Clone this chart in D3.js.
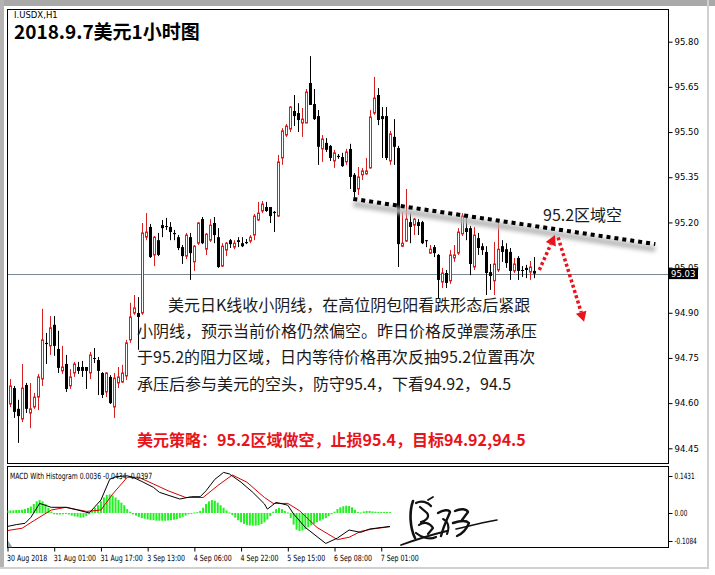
<!DOCTYPE html>
<html>
<head>
<meta charset="utf-8">
<script src="https://cdn.jsdelivr.net/npm/d3@7"></script>
<style>
  body { margin: 0; background: #fff; }
  svg { display: block; }
</style>
</head>
<body>
<svg id="chart" width="715" height="575"></svg>
<script>
// ---- I.USDX H1 candles (open / high / low / close) ----
const open  = [94.597,94.650,94.581,94.547,94.660,94.567,94.587,94.620,94.680,94.800,94.790,94.860,94.780,94.707,94.730,94.657,94.700,94.720,94.720,94.720,94.700,94.750,94.743,94.700,94.637,94.687,94.587,94.667,94.670,94.690,94.810,94.899,94.899,94.899,95.151,95.185,95.092,95.141,95.191,95.188,95.185,95.165,95.151,95.118,95.088,95.151,95.069,95.131,95.211,95.111,95.141,95.198,95.151,95.055,95.108,95.141,95.118,95.141,95.131,95.135,95.138,95.158,95.208,95.238,95.251,95.251,95.235,95.221,95.414,95.490,95.510,95.570,95.563,95.530,95.530,95.663,95.593,95.553,95.444,95.464,95.454,95.404,95.421,95.417,95.401,95.444,95.358,95.311,95.358,95.361,95.381,95.563,95.623,95.553,95.553,95.404,95.484,95.447,95.121,95.138,95.201,95.191,95.201,95.201,95.141,95.098,95.118,95.092,95.002,95.032,95.006,95.082,95.098,95.162,95.181,95.181,95.052,95.148,95.121,95.102,95.035,95.006,95.042,95.121,95.111,95.102,95.039,95.082,95.042,95.049,95.035,95.039];
const high  = [94.680,94.657,94.611,94.730,94.667,94.667,94.634,94.697,94.913,94.833,94.889,94.889,94.840,94.790,94.760,94.713,94.737,94.737,94.740,94.720,94.770,94.783,94.753,94.703,94.703,94.693,94.700,94.720,94.727,94.810,94.933,94.959,94.952,95.198,95.231,95.195,95.155,95.165,95.208,95.215,95.201,95.175,95.158,95.125,95.165,95.165,95.125,95.201,95.218,95.165,95.211,95.218,95.181,95.131,95.135,95.145,95.141,95.151,95.151,95.145,95.158,95.228,95.268,95.271,95.268,95.251,95.238,95.424,95.513,95.527,95.586,95.623,95.596,95.580,95.643,95.752,95.643,95.573,95.490,95.480,95.457,95.441,95.427,95.431,95.444,95.461,95.364,95.384,95.381,95.414,95.573,95.683,95.646,95.583,95.583,95.504,95.543,95.454,95.235,95.311,95.231,95.215,95.211,95.205,95.141,95.125,95.125,95.095,95.049,95.042,95.108,95.125,95.181,95.231,95.215,95.188,95.185,95.165,95.131,95.121,95.062,95.135,95.208,95.141,95.131,95.115,95.082,95.088,95.055,95.059,95.072,95.085];
const low   = [94.587,94.551,94.468,94.537,94.567,94.517,94.581,94.577,94.657,94.730,94.760,94.757,94.700,94.697,94.637,94.647,94.687,94.697,94.687,94.647,94.680,94.733,94.627,94.617,94.620,94.597,94.551,94.650,94.667,94.677,94.800,94.893,94.777,94.893,95.141,95.082,95.055,95.088,95.151,95.175,95.141,95.141,95.108,95.062,95.078,95.009,95.039,95.125,95.128,95.092,95.135,95.131,95.049,95.052,95.088,95.115,95.111,95.118,95.118,95.128,95.131,95.141,95.205,95.231,95.235,95.198,95.168,95.218,95.391,95.484,95.500,95.520,95.500,95.484,95.530,95.597,95.540,95.391,95.401,95.434,95.404,95.381,95.411,95.384,95.391,95.311,95.284,95.291,95.341,95.358,95.378,95.557,95.523,95.414,95.407,95.391,95.391,95.052,95.118,95.135,95.131,95.158,95.158,95.128,95.118,95.095,95.085,94.949,94.982,94.982,94.996,95.069,95.092,95.155,95.141,95.025,95.042,95.092,95.092,94.959,94.976,94.959,95.035,95.069,95.049,95.009,95.032,95.009,95.019,95.015,95.009,95.015];
const close = [94.657,94.571,94.557,94.650,94.581,94.581,94.620,94.687,94.810,94.796,94.850,94.790,94.717,94.720,94.647,94.687,94.730,94.707,94.707,94.707,94.760,94.747,94.707,94.627,94.700,94.600,94.683,94.687,94.700,94.800,94.886,94.916,94.886,95.165,95.168,95.085,95.151,95.092,95.181,95.185,95.168,95.161,95.115,95.088,95.158,95.098,95.121,95.198,95.131,95.161,95.191,95.158,95.052,95.121,95.131,95.128,95.131,95.135,95.121,95.131,95.151,95.221,95.231,95.261,95.238,95.221,95.231,95.401,95.504,95.520,95.583,95.553,95.540,95.543,95.633,95.590,95.543,95.451,95.477,95.441,95.414,95.431,95.417,95.387,95.434,95.351,95.301,95.351,95.371,95.371,95.550,95.613,95.540,95.543,95.414,95.494,95.451,95.128,95.131,95.211,95.185,95.211,95.188,95.131,95.138,95.111,95.098,95.009,95.032,94.999,95.092,95.092,95.168,95.221,95.168,95.062,95.158,95.115,95.108,95.032,95.022,95.062,95.111,95.102,95.065,95.039,95.062,95.039,95.039,95.042,95.052,95.030];

const priceTicks = [95.80, 95.65, 95.50, 95.35, 95.20, 95.05, 94.90, 94.75, 94.60, 94.45];
const lastPrice = 95.03;

// time axis: bar index of each label
const timeLabelBars = [0, 16, 32, 48, 64, 80, 96, 112, 128];
const timeLabels = ["30 Aug 2018", "31 Aug 01:00", "31 Aug 17:00", "3 Sep 13:00", "4 Sep 06:00",
                    "4 Sep 22:00", "5 Sep 15:00", "6 Sep 08:00", "7 Sep 01:00"];

// MACD with histogram
const macdHist = [0.010,0.010,0.010,0.012,0.012,0.013,0.015,0.020,0.025,0.035,0.045,0.050,0.045,0.035,0.020,0.005,
  -0.005,-0.006,-0.006,-0.005,-0.004,-0.006,-0.010,-0.013,-0.015,-0.018,-0.017,-0.012,-0.005,
  0.010,0.020,0.030,0.045,0.060,0.070,0.072,0.068,0.060,0.050,0.040,0.030,0.015,0.005,
  -0.005,-0.010,-0.015,-0.020,-0.022,-0.025,-0.027,-0.028,-0.030,-0.030,-0.030,-0.030,-0.029,-0.028,-0.026,-0.024,-0.020,-0.015,-0.010,-0.005,-0.002,
  0.002,0.003,0.008,0.020,0.035,0.045,0.050,0.048,0.040,0.030,0.020,0.010,0.002,
  -0.008,-0.018,-0.028,-0.036,-0.042,-0.046,-0.048,-0.049,-0.049,-0.047,-0.043,-0.036,-0.025,-0.012,
  0.005,0.015,0.020,0.015,0.008,0.002,
  -0.020,-0.045,-0.065,-0.070,-0.068,-0.062,-0.055,-0.048,-0.042,-0.036,-0.030,-0.025,-0.020,-0.012,-0.005,
  0.005,0.015,0.022,0.026,0.028,0.027,0.022,0.012,0.004,
  0.002,0.006,0.008,0.008,0.006,0.005,0.004,0.004,0.004,0.004,0.0036];
const macdMain = [[0,-0.052],[3,-0.045],[6,-0.040],[8,-0.017],[11,0.037],[15,0.022],[20,0.022],[24,0.0115],[28,0.000],
  [32,0.050],[35,0.130],[37,0.140],[41,0.144],[43,0.138],[46,0.122],[50,0.099],[52,0.080],[59,0.054],[63,0.063],
  [66,0.063],[68,0.086],[71,0.130],[74,0.157],[76,0.151],[80,0.119],[84,0.080],[88,0.035],[89,0.015],[92,0.041],
  [96,0.030],[98,-0.004],[102,-0.056],[109,-0.118],[113,-0.097],[117,-0.066],[121,-0.075],[124,-0.062],[131,-0.052]];
const macdSignal = [[0,-0.068],[5,-0.059],[9,-0.030],[15,0.0115],[20,0.022],[27,0.006],[32,0.0115],[36,0.073],
  [41,0.138],[45,0.138],[50,0.112],[55,0.086],[61,0.060],[67,0.060],[72,0.106],[77,0.147],[82,0.119],[88,0.060],
  [91,0.037],[96,0.037],[100,0.009],[106,-0.056],[113,-0.103],[117,-0.094],[121,-0.071],[125,-0.062],[131,-0.053]];
const macdTicks = [0.1431, 0, -0.1084];
const macdTickLabels = ["0.1431", "0.00", "-0.1084"];

// drawn objects: resistance line and projected path (bar index, price)
const resistance = [[85.7, 95.278], [161.2, 95.128]];
const bounceUp = [[132.2, 95.042], [136.1, 95.158]];
const dropDown = [[136.9, 95.150], [143.4, 94.870]];

// ---- layout ----
const svg = d3.select("#chart");
const plotL = 7.5, plotR = 668.5, mainT = 9.5, mainB = 463.5, macdT = 466.5, macdB = 547.5;

const x  = d3.scaleLinear().domain([0, open.length - 1]).range([10.5, 10.5 + 4 * (open.length - 1)]);
const y  = d3.scaleLinear().domain([94.45, 95.80]).range([448.3, 41.7]);
const xm = d3.scaleLinear().domain([0, macdHist.length - 1]).range([7.5, 390]);
const ym = d3.scaleLinear().domain([-0.1084, 0.1431]).range([541, 476]);

// the indicator strip uses a condensed face: scale each label horizontally about its anchor
function squeeze(sel, k) {
  sel.each(function () {
    const t = d3.select(this);
    const x0 = +t.attr("x") || 0;
    const y0 = +t.attr("y") || 0;
    t.attr("x", 0).attr("y", 0)
      .attr("transform", `translate(${x0},${y0}) scale(${k},1)`);
  });
}

const defs = svg.append("defs");
defs.append("filter").attr("id", "soft").attr("x", "-10%").attr("y", "-50%").attr("width", "120%").attr("height", "200%")
  .append("feGaussianBlur").attr("stdDeviation", 2.2);
defs.append("clipPath").attr("id", "mainClip").append("rect")
  .attr("x", plotL).attr("y", mainT).attr("width", plotR - plotL).attr("height", mainB - mainT);
defs.append("clipPath").attr("id", "macdClip").append("rect")
  .attr("x", plotL).attr("y", macdT).attr("width", plotR - plotL).attr("height", macdB - macdT);

// window frame
svg.append("rect").attr("x", 0).attr("y", 0).attr("width", 715).attr("height", 575).attr("fill", "#fff");
svg.append("rect").attr("x", 0).attr("y", 0).attr("width", 715).attr("height", 6).attr("fill", "#a9a9a9");
svg.append("rect").attr("x", 0).attr("y", 0).attr("width", 4).attr("height", 569).attr("fill", "#b4b4b4");
svg.append("rect").attr("x", 707).attr("y", 0).attr("width", 2).attr("height", 569).attr("fill", "#d0d0d0");
svg.append("rect").attr("x", 0).attr("y", 567).attr("width", 709).attr("height", 2).attr("fill", "#d0d0d0");

// ---- main price panel ----
const main = svg.append("g").attr("clip-path", "url(#mainClip)");

// last price line
main.append("line").attr("x1", plotL).attr("x2", plotR)
  .attr("y1", Math.round(y(lastPrice)) + 0.5).attr("y2", Math.round(y(lastPrice)) + 0.5)
  .attr("stroke", "#7b8994").attr("stroke-width", 1);

const up = "#d61f1f";
const bars = d3.range(open.length).map(i => ({ i, o: open[i], h: high[i], l: low[i], c: close[i], bull: close[i] >= open[i] }));

main.append("g").selectAll("line").data(bars).join("line")
  .attr("x1", d => x(d.i)).attr("x2", d => x(d.i))
  .attr("y1", d => y(d.h)).attr("y2", d => y(d.l))
  .attr("stroke", d => d.bull ? up : "#000").attr("stroke-width", 1);

main.append("g").selectAll("rect").data(bars).join("rect")
  .attr("x", d => d.bull ? x(d.i) - 1 : x(d.i) - 1.5)
  .attr("width", d => d.bull ? 2 : 3)
  .attr("y", d => y(Math.max(d.o, d.c)))
  .attr("height", d => Math.max(1, y(Math.min(d.o, d.c)) - y(Math.max(d.o, d.c))))
  .attr("fill", d => d.bull ? "#fff" : "#000")
  .attr("stroke", d => d.bull ? up : "none").attr("stroke-width", 1);

// resistance line with its soft shadow
const px = d => x(d[0]), py = d => y(d[1]);
main.append("line")
  .attr("x1", px(resistance[0])).attr("y1", py(resistance[0]) + 5)
  .attr("x2", px(resistance[1])).attr("y2", py(resistance[1]) + 5)
  .attr("stroke", "#b8b8b8").attr("stroke-width", 6).attr("filter", "url(#soft)");
main.append("line")
  .attr("x1", px(resistance[0])).attr("y1", py(resistance[0]))
  .attr("x2", px(resistance[1])).attr("y2", py(resistance[1]))
  .attr("stroke", "#000").attr("stroke-width", 4).attr("stroke-dasharray", "4 4");

// projected path arrows
function dottedArrow(seg) {
  const [a, b] = seg;
  const x1 = px(a), y1 = py(a), x2 = px(b), y2 = py(b);
  const ang = Math.atan2(y2 - y1, x2 - x1);
  const hl = 10, hw = 5.5;
  const bx = x2 - hl * Math.cos(ang), by = y2 - hl * Math.sin(ang);
  main.append("line").attr("x1", x1).attr("y1", y1).attr("x2", bx).attr("y2", by)
    .attr("stroke", "#e8141c").attr("stroke-width", 3.5).attr("stroke-dasharray", "3 2.5");
  const pts = [[x2, y2],
    [bx + hw * Math.sin(ang), by - hw * Math.cos(ang)],
    [bx - hw * Math.sin(ang), by + hw * Math.cos(ang)]];
  main.append("polygon").attr("points", pts.map(p => p.join(",")).join(" ")).attr("fill", "#e8141c");
}
dottedArrow(bounceUp);
dottedArrow(dropDown);

// panel borders
svg.append("rect").attr("x", plotL).attr("y", mainT).attr("width", plotR - plotL).attr("height", mainB - mainT)
  .attr("fill", "none").attr("stroke", "#000");
svg.append("rect").attr("x", plotL).attr("y", macdT).attr("width", plotR - plotL).attr("height", macdB - macdT)
  .attr("fill", "none").attr("stroke", "#000");

// price axis
const axisFont = "'DejaVu Sans', 'Liberation Sans', sans-serif";
const yAxis = svg.append("g").attr("transform", `translate(${plotR},0)`)
  .call(d3.axisRight(y).tickValues(priceTicks).tickFormat(d3.format(".2f")).tickSize(4).tickPadding(2));
yAxis.select(".domain").remove();
yAxis.selectAll("text").attr("font-family", axisFont).attr("font-size", 8.5).attr("fill", "#000");
yAxis.selectAll("line").attr("stroke", "#000");

// last price tag
svg.append("rect").attr("x", 669).attr("y", y(lastPrice) - 5.5).attr("width", 29).attr("height", 11).attr("fill", "#000");
svg.append("text").attr("x", 671).attr("y", y(lastPrice) + 3.5).text(d3.format(".2f")(lastPrice))
  .attr("font-family", axisFont).attr("font-size", 8.5).attr("fill", "#fff");

// titles
svg.append("text").attr("x", 14).attr("y", 18).text("I.USDX,H1")
  .attr("font-family", axisFont).attr("font-size", 8.5).attr("fill", "#000");
svg.append("text").attr("x", 14).attr("y", 38.5).text("2018.9.7美元1小时图")
  .attr("font-family", "'Noto Sans CJK SC', sans-serif").attr("font-weight", 700).attr("font-size", 19).attr("fill", "#000");

// commentary
const cjk = "'Noto Sans CJK SC', sans-serif";
const notes = [
  { t: "美元日K线收小阴线，在高位阴包阳看跌形态后紧跟", x: 168, y: 310.5 },
  { t: "小阴线，预示当前价格仍然偏空。昨日价格反弹震荡承压", x: 137, y: 337 },
  { t: "于95.2的阻力区域，日内等待价格再次反抽95.2位置再次", x: 137, y: 363 },
  { t: "承压后参与美元的空头，防守95.4，下看94.92，94.5", x: 137, y: 389.5 }
];
svg.append("g").selectAll("text").data(notes).join("text")
  .attr("x", d => d.x).attr("y", d => d.y).text(d => d.t)
  .attr("font-family", cjk).attr("font-size", 16).attr("fill", "#1a1a1a");
svg.append("text").attr("x", 137).attr("y", 446).text("美元策略：95.2区域做空，止损95.4，目标94.92,94.5")
  .attr("font-family", cjk).attr("font-size", 16).attr("font-weight", 700).attr("fill", "#e8141c");
svg.append("text").attr("x", 543).attr("y", 221).text("95.2区域空")
  .attr("font-family", cjk).attr("font-size", 16).attr("fill", "#1a1a1a");

// ---- MACD panel ----
const macd = svg.append("g").attr("clip-path", "url(#macdClip)");
macd.append("g").selectAll("rect").data(macdHist).join("rect")
  .attr("x", (d, i) => xm(i) - 1).attr("width", 2)
  .attr("y", d => Math.min(ym(0), ym(d))).attr("height", d => Math.max(1, Math.abs(ym(d) - ym(0))))
  .attr("fill", "#22f022");
const ln = d3.line().x(d => xm(d[0])).y(d => ym(d[1]));
macd.append("path").attr("d", ln(macdSignal)).attr("fill", "none").attr("stroke", "#d40000").attr("stroke-width", 1);
macd.append("path").attr("d", ln(macdMain)).attr("fill", "none").attr("stroke", "#000").attr("stroke-width", 1);
macd.append("polygon").attr("points", `${plotL + 0.5},${macdB - 7} ${plotL + 0.5},${macdB} ${plotL + 5},${macdB}`).attr("fill", "#9aa3ab");

svg.append("text").attr("x", 10).attr("y", 478.5).text("MACD With Histogram 0.0036 -0.0434 -0.0397")
  .attr("font-family", axisFont).attr("font-size", 8.5).attr("fill", "#000")
  .call(squeeze, 0.72);

const mAxis = svg.append("g").attr("transform", `translate(${plotR},0)`)
  .call(d3.axisRight(ym).tickValues(macdTicks).tickFormat((d, i) => macdTickLabels[i]).tickSize(4).tickPadding(2));
mAxis.select(".domain").remove();
mAxis.selectAll("text").attr("font-family", axisFont).attr("font-size", 8.5).attr("fill", "#000")
  .call(squeeze, 0.68);

// time axis
const tAxis = svg.append("g").attr("transform", `translate(0,${macdB})`)
  .call(d3.axisBottom(xm).tickValues(timeLabelBars).tickFormat((d, i) => timeLabels[i]).tickSize(4).tickPadding(3));
tAxis.select(".domain").remove();
tAxis.selectAll("text").attr("text-anchor", "start").attr("x", -1)
  .attr("font-family", axisFont).attr("font-size", 8.5).attr("fill", "#000")
  .call(squeeze, 0.74);

// signature
const sig = svg.append("g").attr("fill", "none").attr("stroke", "#111").attr("stroke-linecap", "round").attr("stroke-linejoin", "round");
[
  ["M401,545 C415,540 430,535 447,531", 1.8],
  ["M413,501 C409,512 410,528 415,538", 2.6],
  ["M416,503 C421,500 428,502 431,506", 2.2],
  ["M428,500 L433,497", 1.8],
  ["M420,507 L427,513 C430,517 426,521 421,522", 2.2],
  ["M419,525 C424,521 430,523 433,528 L428,534", 2.2],
  ["M416,533 C422,538 430,540 436,537", 2.2],
  ["M438,513 C443,510 449,509 450,512 C448,518 444,524 441,536", 2.4],
  ["M443,519 C448,521 450,527 447,534", 2],
  ["M455,511 C461,508 467,509 468,512 L462,520", 2.4],
  ["M453,523 C459,521 466,520 469,523 C467,528 464,533 457,536", 2.4],
  ["M456,529 C465,527 480,523 497,520", 1.6]
].forEach(([d, w]) => sig.append("path").attr("d", d).attr("stroke-width", w));
</script>
</body>
</html>
